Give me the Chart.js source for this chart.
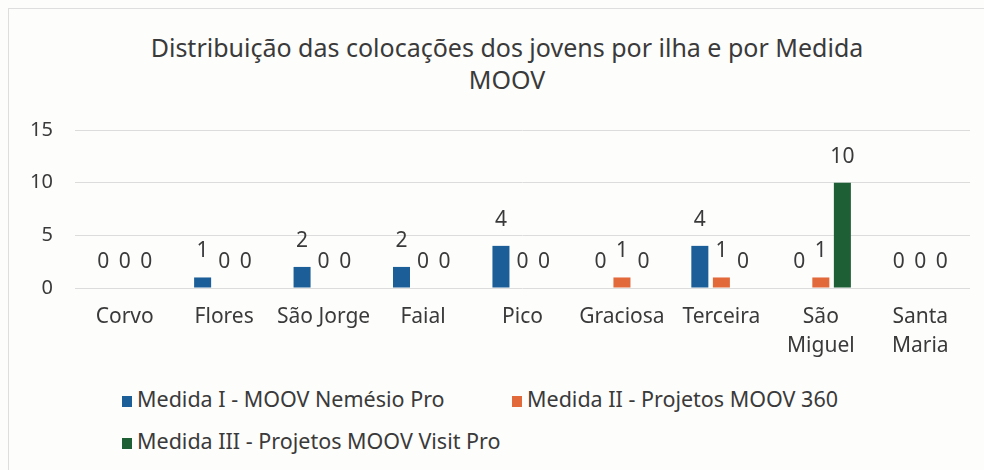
<!DOCTYPE html>
<html>
<head>
<meta charset="utf-8">
<script src="https://cdn.jsdelivr.net/npm/chart.js@4.4.1/dist/chart.umd.min.js"></script>
<style>
  html, body { margin: 0; padding: 0; background: #fdfdfc; }
  #wrap { position: relative; width: 984px; height: 470px; overflow: hidden; font-family: 'Noto Sans', sans-serif; }
  #frame { position: absolute; left: 8px; top: 8px; width: 1000px; height: 500px; border: 1px solid #dedede; box-sizing: border-box; }
  #chart1 { position: absolute; left: 0; top: 0; }
  #title { position: absolute; left: 15px; top: 31px; width: 984px; text-align: center; color: #3a3a3a; font-size: 25px; line-height: 32px; }
  .legend { position: absolute; color: #3a3a3a; font-size: 21.5px; white-space: nowrap; }
  .legend span.sw { display: inline-block; width: 10px; height: 11px; margin-right: 5px; vertical-align: 0px; }
</style>
</head>
<body>
<div id="wrap">
  <div id="frame"></div>
  <div id="title">Distribuição das colocações dos jovens por ilha e por Medida<br>MOOV</div>
  <canvas id="chart1" width="984" height="370"></canvas>
  <div id="legend"></div>
</div>
<script>
// data
const ilhas = ['Corvo', 'Flores', 'São Jorge', 'Faial', 'Pico', 'Graciosa', 'Terceira', ['São', 'Miguel'], ['Santa', 'Maria']];
const medidaI = [0, 1, 2, 2, 4, 0, 4, 0, 0];
const medidaII = [0, 0, 0, 0, 0, 1, 1, 1, 0];
const medidaIII = [0, 0, 0, 0, 0, 0, 0, 10, 0];
const seriesNames = ['Medida I - MOOV Nemésio Pro', 'Medida II - Projetos MOOV 360', 'Medida III - Projetos MOOV Visit Pro'];
const seriesColors = ['#1c5f98', '#e2693a', '#1f5f36'];
const yTicks = [0, 5, 10, 15];

const textColor = '#3a3a3a';
const fontFamily = "'Noto Sans', sans-serif";

// simple value labels above each bar
const valueLabels = {
  id: 'valueLabels',
  afterDatasetsDraw(chart) {
    const ctx = chart.ctx;
    ctx.save();
    ctx.fillStyle = textColor;
    ctx.font = '21px ' + fontFamily;
    ctx.textAlign = 'center';
    ctx.textBaseline = 'middle';
    chart.data.datasets.forEach((ds, i) => {
      chart.getDatasetMeta(i).data.forEach((bar, j) => {
        ctx.fillText(String(ds.data[j]), bar.x, bar.y - 26);
      });
    });
    ctx.restore();
  }
};

const datasets = [medidaI, medidaII, medidaIII].map((vals, i) => ({
  label: seriesNames[i],
  data: vals,
  backgroundColor: seriesColors[i],
  borderColor: seriesColors[i],
  borderWidth: 0,
  categoryPercentage: 0.65,
  barPercentage: 0.79,
}));

new Chart(document.getElementById('chart1'), {
  type: 'bar',
  data: { labels: ilhas, datasets: datasets },
  options: {
    responsive: false,
    animation: false,
    layout: { padding: { left: 0, right: 14, top: 130, bottom: 0 } },
    plugins: {
      legend: { display: false },
      tooltip: { enabled: false },
      title: { display: false },
    },
    scales: {
      x: {
        grid: { display: false, drawTicks: false },
        border: { display: false },
        ticks: {
          color: textColor,
          font: { family: fontFamily, size: 21, lineHeight: 1.35 },
          padding: 15,
          maxRotation: 0,
          autoSkip: false,
        },
        afterFit(scale) { scale.height = 82; },
      },
      y: {
        min: 0,
        max: 15,
        afterBuildTicks(scale) { scale.ticks = yTicks.map(v => ({ value: v })); },
        grid: { color: '#dcdcdc', drawTicks: false },
        border: { display: false },
        ticks: {
          color: textColor,
          font: { family: fontFamily, size: 20 },
          padding: 22,
        },
        afterFit(scale) { scale.width = 75; },
      },
    },
  },
  plugins: [valueLabels],
});

// legend, two rows left aligned like the original
const legendRows = [
  { top: 384, items: [{ i: 0, left: 122 }, { i: 1, left: 512 }] },
  { top: 426, items: [{ i: 2, left: 122 }] },
];
const legendEl = document.getElementById('legend');
legendRows.forEach(row => {
  row.items.forEach(it => {
    const d = document.createElement('div');
    d.className = 'legend';
    d.style.left = it.left + 'px';
    d.style.top = row.top + 'px';
    d.innerHTML = '<span class="sw" style="background:' + seriesColors[it.i] + '"></span>' + seriesNames[it.i];
    legendEl.appendChild(d);
  });
});
</script>
</body>
</html>
